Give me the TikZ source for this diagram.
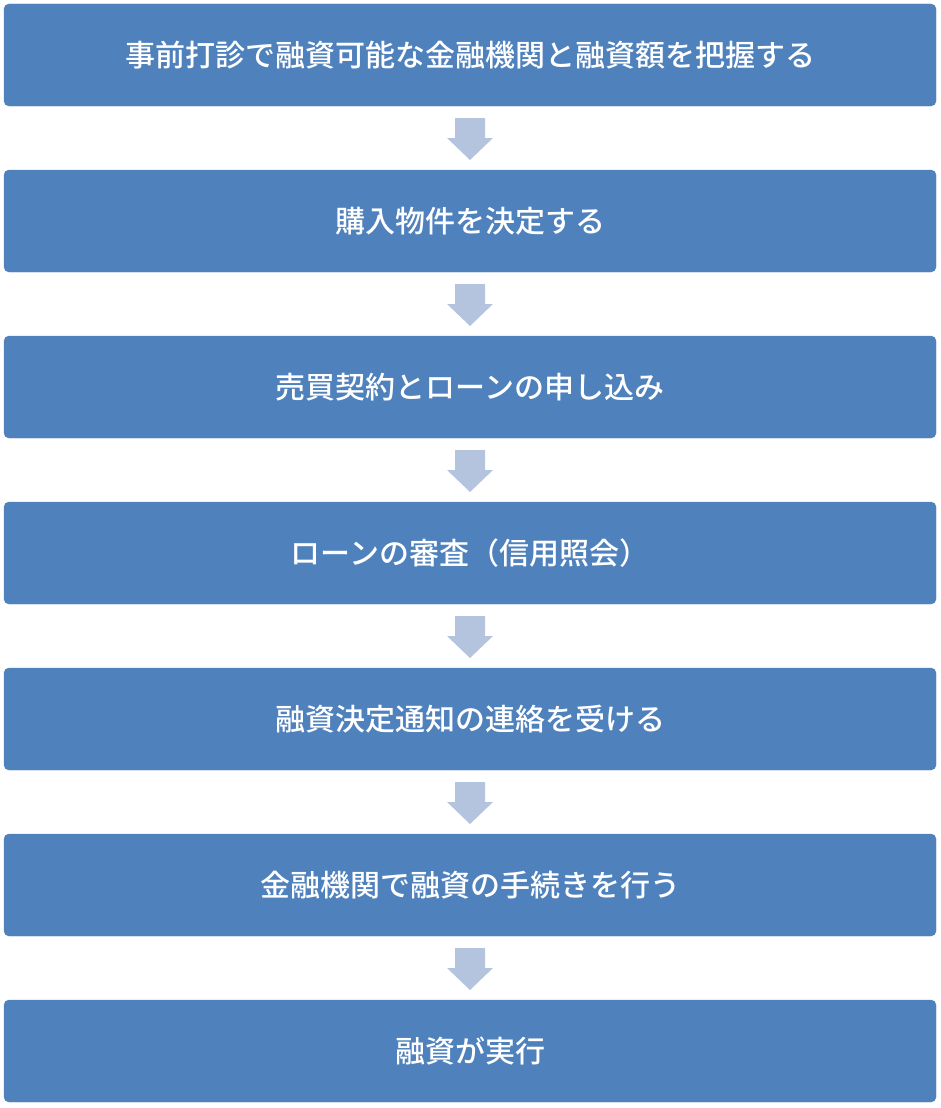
\documentclass[tikz,border=0pt]{standalone}
\usepackage{fontspec}
\newfontfamily\cjk{Noto Sans CJK JP Medium}
\definecolor{boxblue}{HTML}{4F81BD}
\definecolor{arrowgrey}{HTML}{B4C4DE}
\tikzstyle{stage}=[draw=boxblue, fill=boxblue, rounded corners=5pt, minimum width=932pt,
 minimum height=102pt, text=white, font=\cjk\fontsize{30pt}{36pt}\selectfont]
\tikzstyle{down}=[fill=arrowgrey, draw=none]
\begin{document}
\begin{tikzpicture}[x=1pt,y=-1pt]
	\useasboundingbox (0,0) rectangle (940,1108);
	% Steps
	\foreach \i/\txt in {1/事前打診で融資可能な金融機関と融資額を把握する, 2/購入物件を決定する,
		3/売買契約とローンの申し込み, 4/ローンの審査（信用照会）, 5/融資決定通知の連絡を受ける,
		6/金融機関で融資の手続きを行う, 7/融資が実行}
	\node[stage] (s\i) at (470,{55+166*(\i-1)}) {\txt};
	% Arrows
	\foreach \i in {1,...,6}
	\coordinate (a\i) at (470,{118+166*(\i-1)});
	\foreach \i in {1,...,6}
	\fill[down] (a\i) ++(-15,0) -- ++(30,0) -- ++(0,20) -- ++(8,0) -- ++(-23,22) -- ++(-23,-22) -- ++(8,0) -- cycle;
\end{tikzpicture}
\end{document}
